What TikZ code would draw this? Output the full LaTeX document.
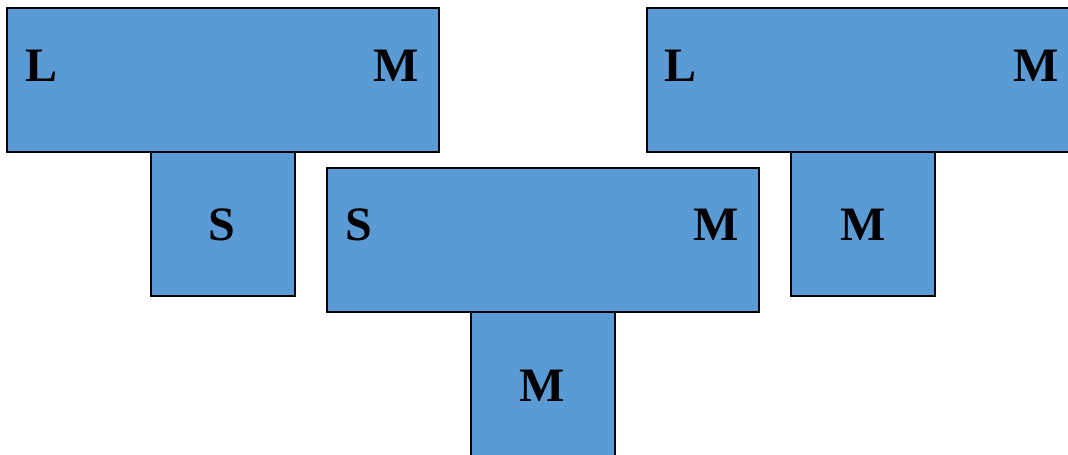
\documentclass[tikz,border=0pt]{standalone}
\usepackage{fontspec}
\setmainfont{Liberation Serif}
\definecolor{boxblue}{HTML}{5B9BD5}
\tikzset{
  blk/.style={fill=boxblue, draw=black, line width=1.6pt},
  lbl/.style={anchor=base, inner sep=0pt, font=\fontsize{36}{36}\selectfont\bfseries}
}
\begin{document}
\begin{tikzpicture}[x=0.75pt,y=-0.75pt]
\useasboundingbox (0,0) rectangle (1068,454);
\clip (0,0) rectangle (1068,454);
% stems
\path[blk] (151,152) rectangle (295,296);
\path[blk] (471,312) rectangle (615,470);
\path[blk] (791,152) rectangle (935,296);
% top bars
\path[blk] (7,8) rectangle (439,152);
\path[blk] (327,168) rectangle (759,312);
\path[blk] (647,8) rectangle (1090,152);
% labels
\node[lbl] (l1) at (42,81) {L};
\node[lbl] (m1) at (396,81) {M};
\node[lbl] (s1) at (222,240) {S};
\node[lbl] (s2) at (359,240) {S};
\node[lbl] (m2) at (716,240) {M};
\node[lbl] (m3) at (542,401) {M};
\node[lbl] (l2) at (681,81) {L};
\node[lbl] (m4) at (1036,81) {M};
\node[lbl] (m5) at (863,240) {M};
\end{tikzpicture}
\end{document}
